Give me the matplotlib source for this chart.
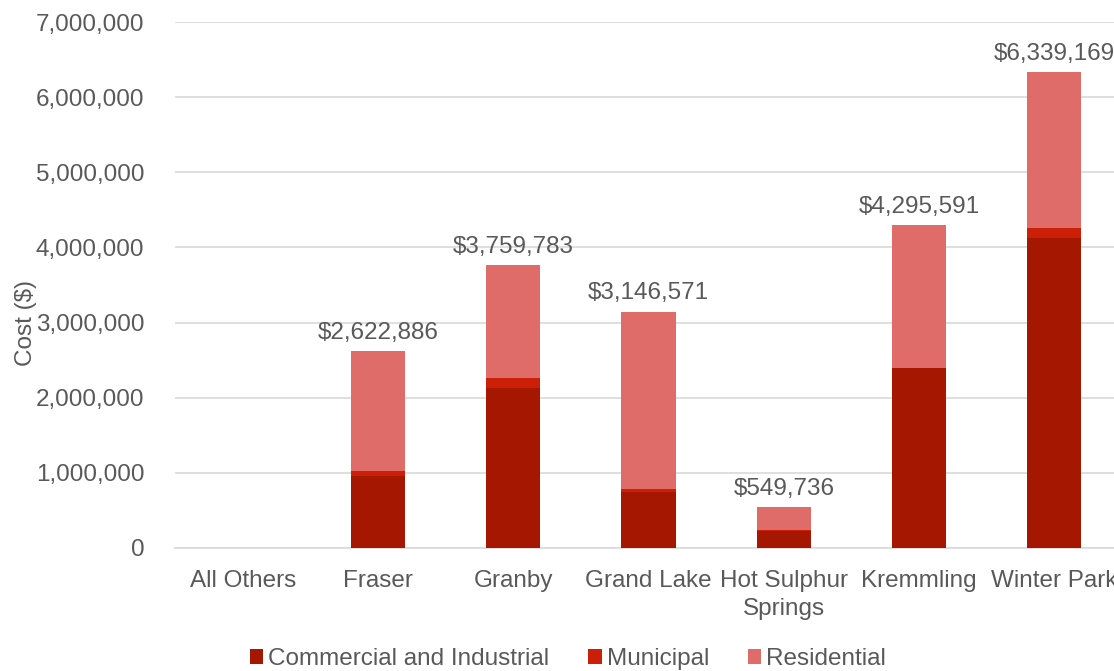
import matplotlib.pyplot as plt
import numpy as np

plt.rcParams['font.family'] = ['Liberation Sans', 'DejaVu Sans']

towns = ['All Others', 'Fraser', 'Granby', 'Grand Lake', 'Hot Sulphur\nSprings', 'Kremmling', 'Winter Park']
commercial = [0, 960000, 2135000, 740000, 228000, 2390000, 4125000]
municipal = [0, 60000, 125000, 50000, 5000, 10000, 130000]
totals = [0, 2622886, 3759783, 3146571, 549736, 4295591, 6339169]
residential = [t - c - m for t, c, m in zip(totals, commercial, municipal)]

text_color = '#595959'
fs = 17.5

fig = plt.figure(figsize=(11.14, 6.71), dpi=100)
# plot area runs a little past the right edge of the figure
ax = fig.add_axes([175 / 1114, (671 - 548) / 671, 947 / 1114, 526 / 671])

x = np.arange(len(towns))
width = 0.4
c = np.array(commercial)
m = np.array(municipal)
r = np.array(residential)
ax.bar(x, c, width, color='#A61700', label='Commercial and Industrial', zorder=3)
ax.bar(x, m, width, bottom=c, color='#CC1F08', label='Municipal', zorder=3)
ax.bar(x, r, width, bottom=c + m, color='#E06C69', label='Residential', zorder=3)

for xi, t in zip(x, totals):
    if t > 0:
        ax.text(xi, t + 95000, '${:,}'.format(t), ha='center', va='bottom',
                fontsize=fs, color=text_color, clip_on=False)

ax.set_xlim(-0.5, len(towns) - 0.5)
ax.set_ylim(0, 7000000)
ax.set_yticks(np.arange(0, 7000001, 1000000))
ax.yaxis.set_major_formatter(plt.FuncFormatter(lambda v, p: '{:,}'.format(int(v))))
ax.set_xticks(x)
ax.set_xticklabels(towns, linespacing=1.35)
ax.tick_params(axis='both', length=0, labelsize=fs, labelcolor=text_color)
ax.tick_params(axis='y', pad=22)
ax.tick_params(axis='x', pad=16)
ax.grid(axis='y', color='#D9D9D9', linewidth=1.2, zorder=0)
for side in ['left', 'right', 'top']:
    ax.spines[side].set_visible(False)
ax.spines['bottom'].set_color('#D9D9D9')
ax.spines['bottom'].set_linewidth(1.2)

fig.text(26 / 1114, 1 - 323 / 671, 'Cost ($)', rotation=90, ha='center', va='center',
         fontsize=fs, color=text_color)

leg = fig.legend(loc='center', bbox_to_anchor=(568 / 1114, 1 - 659 / 671), ncol=3,
                 frameon=False, fontsize=fs, handlelength=0.55, handleheight=0.55,
                 handletextpad=0.2, columnspacing=1.6)
for t in leg.get_texts():
    t.set_color(text_color)

fig.savefig('out.png', dpi=100)
